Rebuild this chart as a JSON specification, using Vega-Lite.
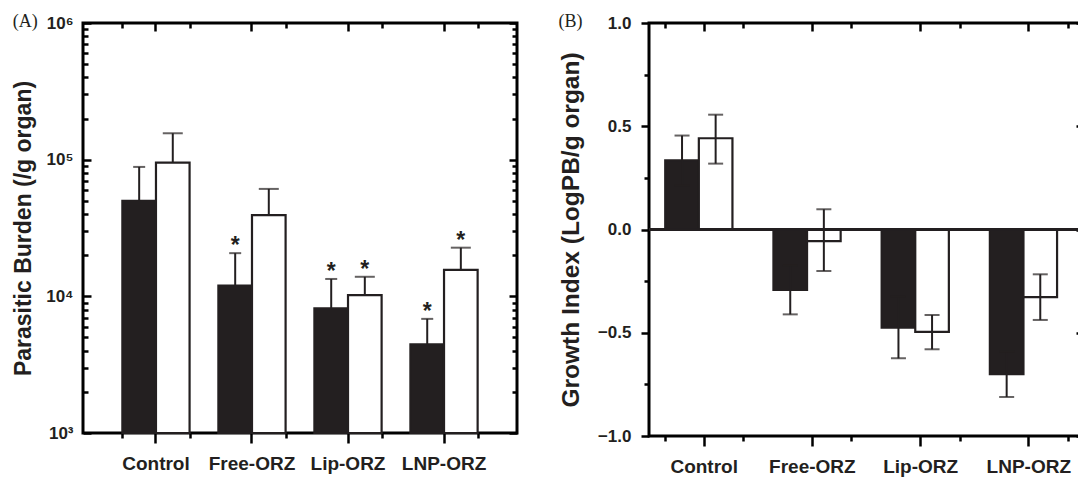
{
  "$schema": "https://vega.github.io/schema/vega-lite/v6.json",
  "background": "white",
  "padding": {"left": 11, "top": 11, "right": 0, "bottom": 0},
  "config": {
    "view": {"stroke": "black", "strokeWidth": 3},
    "axis": {"grid": false, "domain": false, "tickColor": "black", "tickWidth": 2.5, "labelFont": "Liberation Sans", "labelFontWeight": "bold", "labelColor": "#231f20", "titleFont": "Liberation Sans", "titleFontWeight": "bold", "titleColor": "#231f20"},
    "title": {"font": "Liberation Serif", "fontWeight": "normal", "fontSize": 18, "color": "#231f20", "anchor": "start", "frame": "bounds"},
    "concat": {"spacing": 36}
  },
  "hconcat": [
    {
      "width": 434,
      "height": 410,
      "title": {"text": "(A)", "offset": -31, "baseline": "alphabetic"},
      "data": {"values": [
        {"group": "Control", "series": "filled", "value": 50000, "upper": 88500, "sig": false},
        {"group": "Control", "series": "open", "value": 95000, "upper": 156000, "sig": false},
        {"group": "Free-ORZ", "series": "filled", "value": 12000, "upper": 20700, "sig": true},
        {"group": "Free-ORZ", "series": "open", "value": 39300, "upper": 61100, "sig": false},
        {"group": "Lip-ORZ", "series": "filled", "value": 8180, "upper": 13400, "sig": true},
        {"group": "Lip-ORZ", "series": "open", "value": 10200, "upper": 13900, "sig": true},
        {"group": "LNP-ORZ", "series": "filled", "value": 4450, "upper": 6840, "sig": true},
        {"group": "LNP-ORZ", "series": "open", "value": 15640, "upper": 22700, "sig": true}
      ]},
      "resolve": {"axis": {"x": "independent", "y": "independent"}},
      "layer": [
        {
          "mark": {"type": "bar", "stroke": "#231f20", "strokeWidth": 2.2},
          "encoding": {
            "x": {"field": "group", "type": "nominal", "sort": ["Control", "Free-ORZ", "Lip-ORZ", "LNP-ORZ"], "scale": {"paddingInner": 0.3, "paddingOuter": 0.41}, "axis": {"orient": "bottom", "title": null, "labelAngle": 0, "labelFontSize": 19, "tickSize": 10, "labelPadding": 11}},
            "xOffset": {"field": "series", "type": "nominal", "sort": ["filled", "open"], "scale": {"paddingInner": 0, "paddingOuter": 0}},
            "y": {"field": "value", "type": "quantitative", "scale": {"type": "log", "domain": [1000, 1000000], "nice": false}, "axis": {"orient": "left", "values": [1000, 10000, 100000, 1000000], "labelExpr": "datum.value == 1000 ? '10³' : datum.value == 10000 ? '10⁴' : datum.value == 100000 ? '10⁵' : '10⁶'", "tickSize": 8, "offset": -8, "labelPadding": 10, "labelFontSize": 17, "title": "Parasitic Burden (/g organ)", "titleFontSize": 23, "titlePadding": 10}},
            "y2": {"datum": 1000},
            "fill": {"field": "series", "type": "nominal", "scale": {"domain": ["filled", "open"], "range": ["#231f20", "#ffffff"]}, "legend": null}
          }
        },
        {
          "mark": {"type": "rule", "color": "#231f20", "strokeWidth": 2},
          "encoding": {
            "x": {"field": "group", "type": "nominal", "sort": ["Control", "Free-ORZ", "Lip-ORZ", "LNP-ORZ"], "axis": {"orient": "bottom", "title": null, "labels": false, "tickBand": "extent", "tickSize": 5}},
            "xOffset": {"field": "series", "type": "nominal", "sort": ["filled", "open"]},
            "y": {"field": "value", "type": "quantitative", "axis": {"orient": "left", "title": null, "labels": false, "tickSize": 5, "offset": -5, "values": [2000, 3000, 4000, 5000, 6000, 7000, 8000, 9000, 20000, 30000, 40000, 50000, 60000, 70000, 80000, 90000, 200000, 300000, 400000, 500000, 600000, 700000, 800000, 900000]}},
            "y2": {"field": "upper"}
          }
        },
        {
          "mark": {"type": "tick", "color": "#231f20", "thickness": 2},
          "encoding": {
            "x": {"field": "group", "type": "nominal", "sort": ["Control", "Free-ORZ", "Lip-ORZ", "LNP-ORZ"], "axis": {"orient": "top", "title": null, "labels": false, "tickSize": 8, "offset": -8}},
            "xOffset": {"field": "series", "type": "nominal", "sort": ["filled", "open"]},
            "y": {"field": "upper", "type": "quantitative", "axis": {"orient": "right", "title": null, "labels": false, "tickSize": 8, "offset": -8, "values": [1000, 10000, 100000, 1000000]}},
            "size": {"field": "series", "type": "nominal", "scale": {"domain": ["filled", "open"], "range": [12, 20]}, "legend": null}
          }
        },
        {
          "transform": [{"filter": "datum.sig"}],
          "mark": {"type": "text", "text": "*", "font": "Liberation Sans", "fontSize": 23, "fontWeight": "bold", "baseline": "alphabetic", "color": "#231f20"},
          "encoding": {
            "x": {"field": "group", "type": "nominal", "sort": ["Control", "Free-ORZ", "Lip-ORZ", "LNP-ORZ"], "axis": {"orient": "top", "title": null, "labels": false, "tickBand": "extent", "tickSize": 5, "offset": -5}},
            "xOffset": {"field": "series", "type": "nominal", "sort": ["filled", "open"]},
            "y": {"field": "upper", "type": "quantitative", "axis": {"orient": "right", "title": null, "labels": false, "tickSize": 5, "offset": -5, "values": [2000, 3000, 4000, 5000, 6000, 7000, 8000, 9000, 20000, 30000, 40000, 50000, 60000, 70000, 80000, 90000, 200000, 300000, 400000, 500000, 600000, 700000, 800000, 900000]}}
          }
        }
      ]
    },
    {
      "width": 435,
      "height": 413,
      "title": {"text": "(B)", "offset": -31, "baseline": "alphabetic"},
      "data": {"values": [
        {"group": "Control", "series": "filled", "value": 0.335, "lower": 0.215, "upper": 0.455},
        {"group": "Control", "series": "open", "value": 0.442, "lower": 0.319, "upper": 0.556},
        {"group": "Free-ORZ", "series": "filled", "value": -0.293, "lower": -0.411, "upper": -0.175},
        {"group": "Free-ORZ", "series": "open", "value": -0.056, "lower": -0.201, "upper": 0.098},
        {"group": "Lip-ORZ", "series": "filled", "value": -0.475, "lower": -0.624, "upper": -0.326},
        {"group": "Lip-ORZ", "series": "open", "value": -0.496, "lower": -0.58, "upper": -0.414},
        {"group": "LNP-ORZ", "series": "filled", "value": -0.701, "lower": -0.811, "upper": -0.591},
        {"group": "LNP-ORZ", "series": "open", "value": -0.327, "lower": -0.438, "upper": -0.217}
      ]},
      "resolve": {"axis": {"x": "independent", "y": "independent"}},
      "layer": [
        {
          "mark": {"type": "bar", "stroke": "#231f20", "strokeWidth": 2.2},
          "encoding": {
            "x": {"field": "group", "type": "nominal", "sort": ["Control", "Free-ORZ", "Lip-ORZ", "LNP-ORZ"], "scale": {"paddingInner": 0.28, "paddingOuter": 0.15}, "axis": {"orient": "bottom", "title": null, "labelAngle": 0, "labelFontSize": 19, "tickSize": 10, "labelPadding": 11}},
            "xOffset": {"field": "series", "type": "nominal", "sort": ["filled", "open"], "scale": {"paddingInner": 0, "paddingOuter": 0}},
            "y": {"field": "value", "type": "quantitative", "scale": {"domain": [-1, 1], "nice": false, "zero": false}, "axis": {"orient": "left", "values": [-1, -0.5, 0, 0.5, 1], "format": ".1f", "tickSize": 8, "labelPadding": 10, "labelFontSize": 17, "title": "Growth Index (LogPB/g organ)", "titleFontSize": 24.5, "titlePadding": 14}},
            "y2": {"datum": 0},
            "fill": {"field": "series", "type": "nominal", "scale": {"domain": ["filled", "open"], "range": ["#231f20", "#ffffff"]}, "legend": null}
          }
        },
        {
          "mark": {"type": "rule", "color": "#231f20", "strokeWidth": 2.5},
          "encoding": {
            "y": {"datum": 0, "type": "quantitative", "axis": null}
          }
        },
        {
          "mark": {"type": "rule", "color": "#231f20", "strokeWidth": 2},
          "encoding": {
            "x": {"field": "group", "type": "nominal", "sort": ["Control", "Free-ORZ", "Lip-ORZ", "LNP-ORZ"], "axis": {"orient": "bottom", "title": null, "labels": false, "tickBand": "extent", "tickSize": 5}},
            "xOffset": {"field": "series", "type": "nominal", "sort": ["filled", "open"]},
            "y": {"field": "lower", "type": "quantitative", "axis": {"orient": "left", "title": null, "labels": false, "tickSize": 5, "values": [-0.75, -0.25, 0.25, 0.75]}},
            "y2": {"field": "upper"}
          }
        },
        {
          "mark": {"type": "tick", "color": "#231f20", "thickness": 2, "size": 15},
          "encoding": {
            "x": {"field": "group", "type": "nominal", "sort": ["Control", "Free-ORZ", "Lip-ORZ", "LNP-ORZ"], "axis": {"orient": "top", "title": null, "labels": false, "tickSize": 8, "offset": -8}},
            "xOffset": {"field": "series", "type": "nominal", "sort": ["filled", "open"]},
            "y": {"field": "lower", "type": "quantitative", "axis": {"orient": "right", "title": null, "labels": false, "tickSize": 8, "offset": -8, "values": [-1, -0.5, 0, 0.5, 1]}}
          }
        },
        {
          "mark": {"type": "tick", "color": "#231f20", "thickness": 2, "size": 15},
          "encoding": {
            "x": {"field": "group", "type": "nominal", "sort": ["Control", "Free-ORZ", "Lip-ORZ", "LNP-ORZ"], "axis": {"orient": "top", "title": null, "labels": false, "tickBand": "extent", "tickSize": 5, "offset": -5}},
            "xOffset": {"field": "series", "type": "nominal", "sort": ["filled", "open"]},
            "y": {"field": "upper", "type": "quantitative", "axis": {"orient": "right", "title": null, "labels": false, "tickSize": 5, "offset": -5, "values": [-0.75, -0.25, 0.25, 0.75]}}
          }
        }
      ]
    }
  ]
}
